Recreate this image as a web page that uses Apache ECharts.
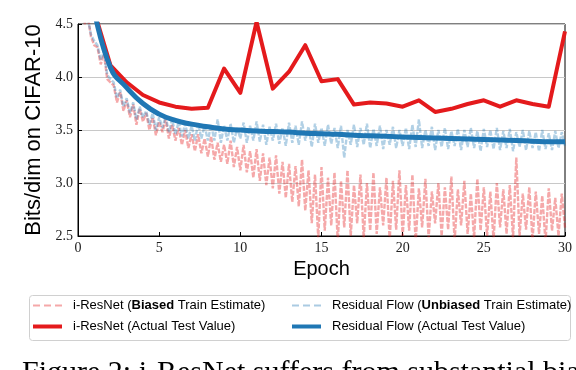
<!DOCTYPE html>
<html>
<head>
<meta charset="utf-8">
<script src="https://cdn.jsdelivr.net/npm/echarts@6/dist/echarts.min.js"></script>
<style>
  html, body { margin: 0; padding: 0; background: #fff; }
  #chart { width: 576px; height: 370px; }
</style>
</head>
<body>
<div id="chart"></div>
<script>
// training estimates, sampled every 0.2 epoch (5 per epoch)
const trainStep = 0.2;
const iresTrain = [
  4.62, 4.50, 4.58, 4.38, 4.30,
  4.28, 4.12, 4.22, 3.98, 3.95,
  3.92, 3.76, 3.86, 3.68, 3.78,
  3.62, 3.74, 3.55, 3.70, 3.58,
  3.66, 3.50, 3.62, 3.45, 3.58,
  3.48, 3.60, 3.42, 3.55, 3.40,
  3.52, 3.36, 3.50, 3.33, 3.46,
  3.30, 3.46, 3.28, 3.42, 3.25,
  3.44, 3.22, 3.38, 3.20, 3.36,
  3.18, 3.40, 3.15, 3.34, 3.12,
  3.36, 3.10, 3.30, 3.05, 3.32,
  3.02, 3.28, 2.98, 3.24, 2.95,
  3.26, 2.90, 3.20, 2.86, 3.18,
  2.82, 3.16, 2.78, 3.22, 2.74,
  3.12, 2.62, 3.08, 2.48, 3.15,
  2.55, 3.05, 2.60, 3.10, 2.45,
  3.02, 2.58, 3.12, 2.50, 2.98,
  2.62, 3.08, 2.48, 3.00, 2.55,
  3.10, 2.52, 2.96, 2.60, 3.05,
  2.46, 3.02, 2.56, 3.12, 2.50,
  2.98, 2.55, 3.08, 2.44, 2.95,
  2.58, 3.04, 2.48, 2.92, 2.62,
  3.00, 2.50, 2.96, 2.56, 3.06,
  2.45, 2.94, 2.60, 3.02, 2.52,
  2.90, 2.48, 3.04, 2.55, 2.96,
  2.50, 2.92, 2.46, 3.00, 2.58,
  2.94, 2.52, 2.98, 2.48, 3.24,
  2.50, 2.90, 2.56, 2.96, 2.46,
  2.92, 2.52, 2.88, 2.44, 2.95,
  2.55, 2.86, 2.50, 2.90, 2.58
];
const resflowTrain = [
  4.60, 4.52, 4.55, 4.40, 4.34,
  4.30, 4.16, 4.24, 4.02, 3.98,
  3.95, 3.80, 3.88, 3.72, 3.80,
  3.66, 3.76, 3.60, 3.72, 3.62,
  3.68, 3.55, 3.66, 3.50, 3.62,
  3.52, 3.63, 3.48, 3.60, 3.46,
  3.58, 3.44, 3.56, 3.42, 3.54,
  3.40, 3.56, 3.42, 3.54, 3.40,
  3.55, 3.40, 3.60, 3.38, 3.54,
  3.40, 3.56, 3.38, 3.52, 3.42,
  3.57, 3.38, 3.54, 3.40, 3.58,
  3.39, 3.55, 3.36, 3.53, 3.40,
  3.56, 3.37, 3.52, 3.35, 3.57,
  3.38, 3.54, 3.36, 3.58, 3.40,
  3.53, 3.34, 3.56, 3.38, 3.52,
  3.35, 3.55, 3.37, 3.52, 3.33,
  3.54, 3.24, 3.50, 3.36, 3.55,
  3.34, 3.52, 3.36, 3.56, 3.33,
  3.51, 3.35, 3.54, 3.32, 3.50,
  3.36, 3.53, 3.33, 3.50, 3.35,
  3.52, 3.32, 3.55, 3.34, 3.60,
  3.33, 3.50, 3.35, 3.53, 3.31,
  3.50, 3.34, 3.52, 3.32, 3.49,
  3.35, 3.51, 3.31, 3.50, 3.34,
  3.52, 3.33, 3.49, 3.30, 3.51,
  3.34, 3.50, 3.32, 3.52, 3.31,
  3.49, 3.33, 3.51, 3.30, 3.48,
  3.34, 3.50, 3.31, 3.49, 3.33,
  3.48, 3.30, 3.50, 3.32, 3.47,
  3.31, 3.49, 3.33, 3.48, 3.35
];
// test values, once per epoch (epoch 1..30)
const iresTest = [4.62, 4.11, 3.95, 3.83, 3.76, 3.72, 3.70, 3.71, 4.08, 3.85,
  4.52, 3.89, 4.05, 4.30, 3.96, 3.98, 3.74, 3.76, 3.75, 3.72,
  3.78, 3.67, 3.70, 3.745, 3.78, 3.72, 3.78, 3.745, 3.72, 4.43];
const resflowTest = [4.64, 4.09, 3.90, 3.75, 3.65, 3.59, 3.555, 3.53, 3.51, 3.50,
  3.49, 3.485, 3.48, 3.47, 3.465, 3.46, 3.45, 3.445, 3.44, 3.435,
  3.43, 3.425, 3.42, 3.415, 3.41, 3.405, 3.40, 3.395, 3.39, 3.39];

const names = [
  "i-ResNet (Biased Train Estimate)",
  "Residual Flow (Unbiased Train Estimate)",
  "i-ResNet (Actual Test Value)",
  "Residual Flow (Actual Test Value)"
];

const trainPts = (arr) => arr.map((v, i) => [+(trainStep * (i + 1)).toFixed(1), v]);
const testPts = (arr) => arr.map((v, i) => [i + 1, v]);

const serif = "Liberation Serif";
const sans = "Liberation Sans";
const red = "#e41a1c";
const blue = "#1f77b4";

const chart = echarts.init(document.getElementById("chart"));

function legendFmt(name) {
  if (name === names[0]) return "{n|i-ResNet (}{b|Biased}{n| Train Estimate)}";
  if (name === names[1]) return "{n|Residual Flow (}{b|Unbiased}{n| Train Estimate)}";
  return "{n|" + name + "}";
}
const legendText = {
  fontFamily: sans,
  fontSize: 13,
  color: "#000",
  padding: [0, 0, 0, 6],
  rich: {
    n: { fontFamily: sans, fontSize: 13, color: "#000" },
    b: { fontFamily: sans, fontSize: 13, color: "#000", fontWeight: "bold" }
  }
};
const dashIcon = "path://M0,0h7v2h-7z M11,0h7v2h-7z M22,0h7v2h-7z";

// one legend per entry so each can carry its own icon height
function legendEntry(i, left, top, color, dashed) {
  return {
    left: left, top: top, padding: 0,
    itemWidth: 29, itemHeight: dashed ? 2 : 4,
    symbolKeepAspect: false,
    formatter: legendFmt, textStyle: legendText,
    data: [{
      name: names[i],
      icon: dashed ? dashIcon : "rect",
      itemStyle: { color: color, opacity: dashed ? 0.38 : 1 }
    }]
  };
}

chart.setOption({
  animation: false,
  grid: {
    left: 78, right: 11, top: 24, bottom: 134,
    show: true, borderColor: "#000", borderWidth: 1
  },
  xAxis: {
    type: "value",
    min: 0, max: 30, interval: 5,
    name: "Epoch",
    nameLocation: "middle",
    nameGap: 21,
    nameTextStyle: { fontFamily: sans, fontSize: 20, color: "#000" },
    axisLine: { lineStyle: { color: "#000", width: 1 } },
    axisTick: { inside: true, length: 4, lineStyle: { color: "#000" } },
    axisLabel: { fontFamily: serif, fontSize: 14, color: "#222", margin: 5 },
    splitLine: { show: false }
  },
  yAxis: {
    type: "value",
    min: 2.5, max: 4.5, interval: 0.5,
    name: "Bits/dim on CIFAR-10",
    nameLocation: "middle",
    nameGap: 25,
    nameTextStyle: { fontFamily: sans, fontSize: 22, color: "#000" },
    axisLine: { show: true, lineStyle: { color: "#000", width: 1 } },
    axisTick: { show: true, inside: true, length: 4, lineStyle: { color: "#000" } },
    axisLabel: {
      fontFamily: serif, fontSize: 14, color: "#222", margin: 5,
      formatter: (v) => v.toFixed(1)
    },
    splitLine: { show: true, lineStyle: { color: "#c8c8c8", width: 1.2 } }
  },
  legend: [
    legendEntry(0, 33, 299, red, true),
    legendEntry(2, 33, 320, red, false),
    legendEntry(1, 292, 299, blue, true),
    legendEntry(3, 292, 320, blue, false)
  ],
  graphic: [
    {
      type: "rect", left: 29, top: 295, z: -1,
      shape: { width: 541, height: 45, r: 3 },
      style: { fill: "#fff", stroke: "#d0d0d0", lineWidth: 1 }
    },
    {
      type: "text", left: 22, top: 358,
      style: {
        text: "Figure 2: i-ResNet suffers from substantial bias",
        fontFamily: serif, fontSize: 30, fill: "#000"
      }
    }
  ],
  series: [
    {
      name: names[0], type: "line", data: trainPts(iresTrain),
      showSymbol: false, symbol: "none", z: 1,
      lineStyle: { color: red, opacity: 0.38, width: 2.4, type: [5, 1.5] },
      itemStyle: { color: red, opacity: 0.38 }
    },
    {
      name: names[1], type: "line", data: trainPts(resflowTrain),
      showSymbol: false, symbol: "none", z: 2,
      lineStyle: { color: blue, opacity: 0.35, width: 2.4, type: [5, 1.5] },
      itemStyle: { color: blue, opacity: 0.35 }
    },
    {
      name: names[2], type: "line", data: testPts(iresTest),
      showSymbol: false, symbol: "none", z: 3,
      lineStyle: { color: red, width: 4, join: "round" },
      itemStyle: { color: red }
    },
    {
      name: names[3], type: "line", data: testPts(resflowTest),
      showSymbol: false, symbol: "none", smooth: 0.5, z: 4,
      lineStyle: { color: blue, width: 5 },
      itemStyle: { color: blue }
    }
  ]
});
</script>
</body>
</html>
